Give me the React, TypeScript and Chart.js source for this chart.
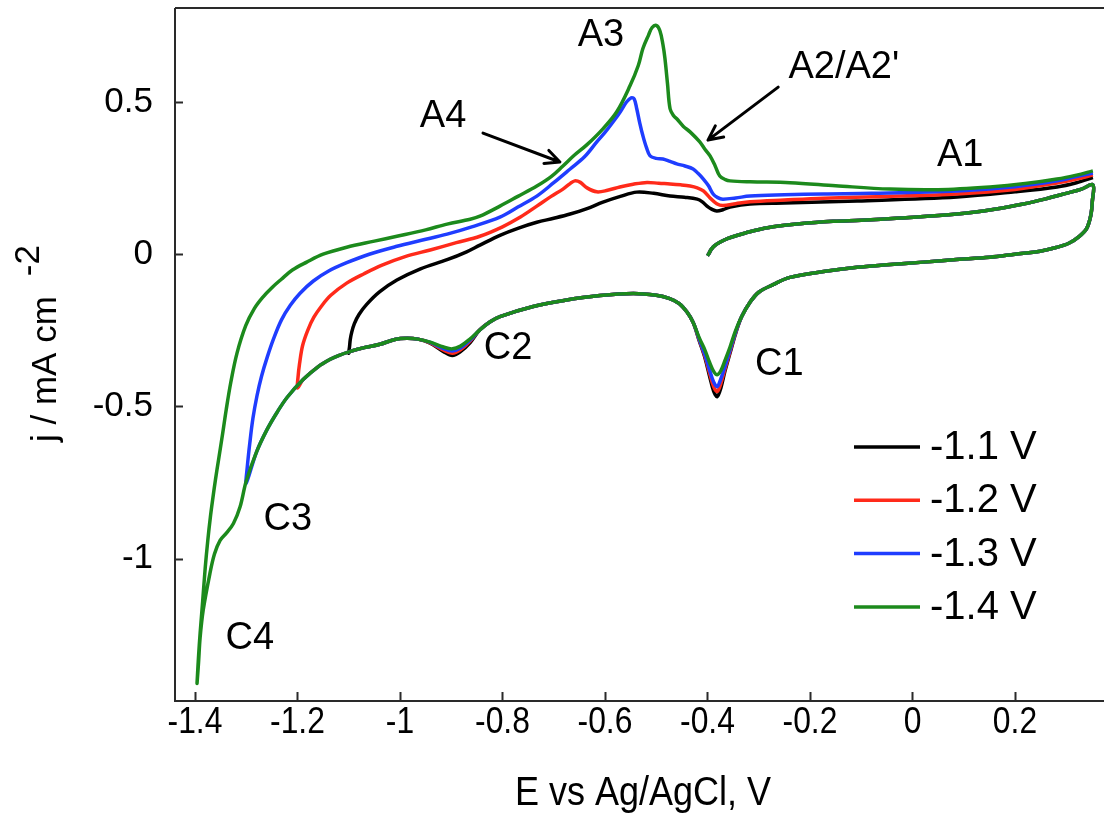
import React, { useEffect, useRef } from "react";
import { Chart, registerables } from "chart.js";

Chart.register(...registerables);

// ---------- axes ----------
const X_TICKS = [-1.4, -1.2, -1, -0.8, -0.6, -0.4, -0.2, 0, 0.2];
const Y_TICKS = [0.5, 0, -0.5, -1];
const X_TICK_LABELS = ["-1.4", "-1.2", "-1", "-0.8", "-0.6", "-0.4", "-0.2", "0", "0.2"];
const Y_TICK_LABELS = ["0.5", "0", "-0.5", "-1"];
const X_TITLE = "E vs Ag/AgCl, V";
const Y_TITLE = "j / mA cm";
const Y_TITLE_SUP = "-2";

// ---------- series ----------
const SERIES_LABELS = ["-1.1 V", "-1.2 V", "-1.3 V", "-1.4 V"];

// first anodic sweep from -0.4 V (common to all)
const E_MID = [-0.4, -0.397, -0.393, -0.386, -0.375, -0.36, -0.34, -0.31, -0.272, -0.22, -0.155, -0.1, -0.024, 0.087, 0.16, 0.216, 0.26, 0.3, 0.33, 0.352];
const J_MID = [-0.005, 0.003, 0.015, 0.028, 0.04, 0.052, 0.063, 0.077, 0.09, 0.1, 0.108, 0.112, 0.119, 0.132, 0.148, 0.165, 0.182, 0.2, 0.214, 0.228];

// cathodic sweep 0.35 V -> -1.1 V
const E_LOW = [0.351, 0.348, 0.34, 0.325, 0.305, 0.28, 0.249, 0.2, 0.151, 0.08, 0.021, -0.05, -0.108, -0.17, -0.239, -0.272, -0.3, -0.317, -0.333, -0.345, -0.356, -0.366, -0.374, -0.381, -0.388, -0.396, -0.405, -0.416, -0.428, -0.44, -0.455, -0.475, -0.5, -0.545, -0.61, -0.68, -0.74, -0.805, -0.824, -0.845, -0.863, -0.882, -0.898, -0.915, -0.941, -0.965, -0.987, -1.01, -1.039, -1.07, -1.098];
const J_LOW_11 = [0.175, 0.128, 0.085, 0.058, 0.036, 0.022, 0.01, 0.0, -0.01, -0.018, -0.026, -0.035, -0.043, -0.056, -0.076, -0.1, -0.125, -0.158, -0.204, -0.26, -0.325, -0.385, -0.44, -0.468, -0.45, -0.4, -0.34, -0.285, -0.224, -0.19, -0.162, -0.145, -0.135, -0.129, -0.136, -0.152, -0.172, -0.205, -0.222, -0.25, -0.29, -0.32, -0.333, -0.32, -0.292, -0.279, -0.276, -0.28, -0.296, -0.307, -0.32];
const J_LOW_12 = [0.175, 0.128, 0.085, 0.058, 0.036, 0.022, 0.01, 0.0, -0.01, -0.018, -0.026, -0.035, -0.043, -0.056, -0.076, -0.1, -0.125, -0.158, -0.204, -0.257, -0.32, -0.378, -0.425, -0.451, -0.435, -0.39, -0.335, -0.282, -0.224, -0.19, -0.162, -0.145, -0.135, -0.129, -0.136, -0.152, -0.172, -0.205, -0.222, -0.25, -0.285, -0.314, -0.325, -0.315, -0.291, -0.279, -0.276, -0.28, -0.296, -0.307, -0.32];
const J_LOW_13 = [0.175, 0.128, 0.085, 0.058, 0.036, 0.022, 0.01, 0.0, -0.01, -0.018, -0.026, -0.035, -0.043, -0.056, -0.076, -0.1, -0.125, -0.158, -0.204, -0.255, -0.315, -0.37, -0.41, -0.435, -0.42, -0.38, -0.33, -0.28, -0.224, -0.19, -0.162, -0.145, -0.135, -0.129, -0.136, -0.152, -0.172, -0.205, -0.222, -0.25, -0.282, -0.308, -0.318, -0.31, -0.29, -0.279, -0.276, -0.28, -0.296, -0.307, -0.32];
const J_LOW_14 = [0.175, 0.128, 0.085, 0.058, 0.036, 0.022, 0.01, 0.0, -0.01, -0.018, -0.026, -0.035, -0.043, -0.056, -0.076, -0.1, -0.125, -0.158, -0.204, -0.25, -0.305, -0.35, -0.383, -0.396, -0.385, -0.355, -0.315, -0.275, -0.224, -0.19, -0.162, -0.145, -0.135, -0.129, -0.136, -0.152, -0.172, -0.205, -0.222, -0.25, -0.278, -0.302, -0.311, -0.305, -0.289, -0.279, -0.276, -0.28, -0.296, -0.307, -0.32];

// cathodic sweep continued to each switching potential
const E_TAIL_11 = [-1.1];
const J_TAIL_11 = [-0.325];
const E_TAIL_12 = [-1.12, -1.137, -1.16, -1.189, -1.2];
const J_TAIL_12 = [-0.333, -0.346, -0.37, -0.412, -0.44];
const E_TAIL_13 = [-1.12, -1.137, -1.16, -1.189, -1.22, -1.24, -1.26, -1.28, -1.3];
const J_TAIL_13 = [-0.333, -0.346, -0.37, -0.412, -0.47, -0.52, -0.578, -0.65, -0.752];
const E_TAIL_14 = [-1.12, -1.137, -1.16, -1.189, -1.22, -1.24, -1.26, -1.28, -1.3, -1.312, -1.325, -1.338, -1.351, -1.362, -1.371, -1.384, -1.39, -1.393, -1.396];
const J_TAIL_14 = [-0.333, -0.346, -0.37, -0.412, -0.47, -0.52, -0.578, -0.65, -0.745, -0.83, -0.885, -0.915, -0.94, -0.985, -1.05, -1.17, -1.26, -1.34, -1.41];

// anodic return sweep to 0.35 V
const E_UP_11 = [-1.0985, -1.097, -1.094, -1.089, -1.08, -1.065, -1.04, -1.006, -0.96, -0.908, -0.87, -0.844, -0.805, -0.77, -0.733, -0.7, -0.668, -0.635, -0.604, -0.57, -0.538, -0.505, -0.473, -0.445, -0.42, -0.41, -0.401, -0.392, -0.382, -0.37, -0.356, -0.317, -0.25, -0.108, 0.087, 0.2, 0.282, 0.32, 0.352];
const J_UP_11 = [-0.305, -0.28, -0.255, -0.228, -0.198, -0.165, -0.124, -0.085, -0.048, -0.018, 0.008, 0.03, 0.062, 0.085, 0.105, 0.118, 0.132, 0.15, 0.171, 0.19, 0.204, 0.2, 0.191, 0.187, 0.181, 0.172, 0.158, 0.148, 0.142, 0.146, 0.155, 0.165, 0.168, 0.175, 0.188, 0.205, 0.221, 0.235, 0.252];
const E_UP_12 = [-1.199, -1.196, -1.19, -1.18, -1.168, -1.153, -1.135, -1.104, -1.07, -1.035, -0.99, -0.941, -0.89, -0.844, -0.8, -0.765, -0.733, -0.705, -0.682, -0.668, -0.659, -0.648, -0.635, -0.616, -0.595, -0.571, -0.545, -0.518, -0.495, -0.473, -0.452, -0.434, -0.42, -0.408, -0.395, -0.382, -0.37, -0.345, -0.317, -0.25, -0.174, -0.05, 0.087, 0.2, 0.282, 0.32, 0.352];
const J_UP_12 = [-0.405, -0.36, -0.3, -0.25, -0.207, -0.17, -0.135, -0.095, -0.064, -0.036, -0.008, 0.014, 0.038, 0.059, 0.09, 0.122, 0.158, 0.19, 0.214, 0.232, 0.241, 0.236, 0.218, 0.205, 0.21, 0.221, 0.23, 0.236, 0.233, 0.231, 0.228, 0.224, 0.218, 0.208, 0.185, 0.166, 0.16, 0.166, 0.172, 0.178, 0.184, 0.19, 0.198, 0.213, 0.234, 0.247, 0.26];
const E_UP_13 = [-1.298, -1.293, -1.287, -1.279, -1.27, -1.259, -1.246, -1.231, -1.214, -1.195, -1.169, -1.14, -1.104, -1.06, -1.006, -0.96, -0.908, -0.86, -0.805, -0.77, -0.733, -0.7, -0.668, -0.64, -0.616, -0.6, -0.584, -0.57, -0.558, -0.549, -0.543, -0.538, -0.532, -0.526, -0.519, -0.512, -0.5, -0.487, -0.473, -0.46, -0.444, -0.428, -0.418, -0.408, -0.398, -0.389, -0.38, -0.37, -0.345, -0.317, -0.25, -0.174, -0.08, 0.087, 0.2, 0.282, 0.32, 0.352];
const J_UP_13 = [-0.7, -0.62, -0.54, -0.465, -0.4, -0.338, -0.275, -0.215, -0.168, -0.128, -0.088, -0.056, -0.028, 0.0, 0.026, 0.045, 0.066, 0.09, 0.122, 0.155, 0.191, 0.235, 0.28, 0.32, 0.369, 0.4, 0.435, 0.468, 0.5, 0.514, 0.51, 0.478, 0.43, 0.389, 0.35, 0.323, 0.315, 0.313, 0.305, 0.297, 0.29, 0.28, 0.265, 0.247, 0.225, 0.198, 0.186, 0.181, 0.185, 0.191, 0.195, 0.198, 0.2, 0.208, 0.222, 0.241, 0.255, 0.267];
const E_UP_14 = [-1.393, -1.39, -1.385, -1.38, -1.375, -1.37, -1.365, -1.36, -1.354, -1.347, -1.339, -1.33, -1.318, -1.301, -1.284, -1.267, -1.25, -1.232, -1.21, -1.182, -1.15, -1.104, -1.05, -1.006, -0.95, -0.908, -0.863, -0.844, -0.805, -0.77, -0.733, -0.705, -0.682, -0.66, -0.635, -0.604, -0.577, -0.551, -0.535, -0.526, -0.515, -0.508, -0.5, -0.493, -0.487, -0.483, -0.478, -0.473, -0.466, -0.46, -0.447, -0.434, -0.415, -0.405, -0.395, -0.385, -0.376, -0.365, -0.356, -0.317, -0.239, -0.15, -0.044, 0.05, 0.151, 0.22, 0.282, 0.32, 0.352];
const J_UP_14 = [-1.32, -1.246, -1.14, -1.03, -0.94, -0.864, -0.8, -0.74, -0.675, -0.6, -0.51, -0.42, -0.325, -0.235, -0.178, -0.14, -0.11, -0.083, -0.052, -0.026, 0.0, 0.023, 0.043, 0.059, 0.08, 0.099, 0.115, 0.125, 0.158, 0.19, 0.224, 0.255, 0.29, 0.325, 0.36, 0.412, 0.468, 0.554, 0.62, 0.676, 0.72, 0.745, 0.752, 0.735, 0.69, 0.643, 0.56, 0.478, 0.455, 0.445, 0.42, 0.402, 0.369, 0.345, 0.323, 0.29, 0.257, 0.245, 0.241, 0.238, 0.235, 0.225, 0.214, 0.212, 0.221, 0.232, 0.247, 0.26, 0.274];

// ---------- annotations (data coordinates) ----------
const NOTE_TEXT = ["A1", "A2/A2'", "A3", "A4", "C1", "C2", "C3", "C4"];
const NOTE_E = [0.093, -0.134, -0.608, -0.916, -0.26, -0.789, -1.219, -1.293];
const NOTE_J = [0.323, 0.612, 0.717, 0.454, -0.361, -0.31, -0.872, -1.262];
const ARROW_FROM_E = [-0.838, -0.262];
const ARROW_FROM_J = [0.398, 0.549];
const ARROW_TO_E = [-0.688, -0.399];
const ARROW_TO_J = [0.303, 0.375];

const COLORS = ["#000000", "#ff2a1a", "#1f3dff", "#1c8a1c"];
const FONT = "'Liberation Sans', Arial, Helvetica, sans-serif";

function toPoints(parts: [number[], number[]][]) {
  const pts: { x: number; y: number }[] = [];
  for (const [es, js] of parts) {
    for (let i = 0; i < es.length; i++) pts.push({ x: es[i], y: js[i] });
  }
  return pts;
}

const CURVES = [
  toPoints([[E_MID, J_MID], [E_LOW, J_LOW_11], [E_TAIL_11, J_TAIL_11], [E_UP_11, J_UP_11]]),
  toPoints([[E_MID, J_MID], [E_LOW, J_LOW_12], [E_TAIL_12, J_TAIL_12], [E_UP_12, J_UP_12]]),
  toPoints([[E_MID, J_MID], [E_LOW, J_LOW_13], [E_TAIL_13, J_TAIL_13], [E_UP_13, J_UP_13]]),
  toPoints([[E_MID, J_MID], [E_LOW, J_LOW_14], [E_TAIL_14, J_TAIL_14], [E_UP_14, J_UP_14]]),
];

function condensedText(ctx: CanvasRenderingContext2D, text: string, x: number, y: number, sx: number) {
  ctx.save();
  ctx.translate(x, y);
  ctx.scale(sx, 1);
  ctx.fillText(text, 0, 0);
  ctx.restore();
}

const decorPlugin = {
  id: "decor",
  afterDatasetsDraw(chart: any) {
    const { ctx, chartArea, scales } = chart;
    const { left, right, top, bottom } = chartArea;
    const xs = scales.x;
    const ys = scales.y;
    ctx.save();

    // frame: top, left, bottom
    ctx.strokeStyle = "#2a2a2a";
    ctx.lineWidth = 2;
    ctx.beginPath();
    ctx.moveTo(left, top);
    ctx.lineTo(right, top);
    ctx.moveTo(left, top);
    ctx.lineTo(left, bottom);
    ctx.lineTo(right, bottom);
    ctx.stroke();

    // inward ticks
    ctx.beginPath();
    X_TICKS.forEach((v) => {
      const px = Math.round(xs.getPixelForValue(v)) + 0.5;
      ctx.moveTo(px, bottom);
      ctx.lineTo(px, bottom - 9);
    });
    Y_TICKS.forEach((v) => {
      const py = Math.round(ys.getPixelForValue(v)) + 0.5;
      ctx.moveTo(left, py);
      ctx.lineTo(left + 8, py);
    });
    ctx.stroke();

    // tick labels
    ctx.fillStyle = "#000";
    ctx.font = `37px ${FONT}`;
    ctx.textAlign = "center";
    ctx.textBaseline = "middle";
    X_TICKS.forEach((v, i) => {
      condensedText(ctx, X_TICK_LABELS[i], xs.getPixelForValue(v), bottom + 22, 0.86);
    });
    ctx.font = `35px ${FONT}`;
    ctx.textAlign = "right";
    Y_TICKS.forEach((v, i) => {
      ctx.fillText(Y_TICK_LABELS[i], left - 22, ys.getPixelForValue(v));
    });

    // axis titles
    ctx.font = `40px ${FONT}`;
    ctx.textAlign = "center";
    condensedText(ctx, X_TITLE, 643, 794, 0.9);

    ctx.save();
    ctx.translate(46, 365);
    ctx.rotate(-Math.PI / 2);
    ctx.font = `35px ${FONT}`;
    ctx.textAlign = "left";
    ctx.textBaseline = "middle";
    ctx.fillText(Y_TITLE, -77, 0);
    const w = ctx.measureText(Y_TITLE).width;
    ctx.fillText(Y_TITLE_SUP, -77 + w + 20, -17);
    ctx.restore();

    // annotations
    ctx.font = `38px ${FONT}`;
    ctx.textAlign = "center";
    ctx.textBaseline = "middle";
    NOTE_TEXT.forEach((t, i) => {
      ctx.fillText(t, xs.getPixelForValue(NOTE_E[i]), ys.getPixelForValue(NOTE_J[i]));
    });

    // arrows
    ctx.strokeStyle = "#000";
    ctx.lineWidth = 3;
    ctx.lineCap = "round";
    ctx.lineJoin = "round";
    ARROW_FROM_E.forEach((_, i) => {
      const x0 = xs.getPixelForValue(ARROW_FROM_E[i]);
      const y0 = ys.getPixelForValue(ARROW_FROM_J[i]);
      const x1 = xs.getPixelForValue(ARROW_TO_E[i]);
      const y1 = ys.getPixelForValue(ARROW_TO_J[i]);
      const a = Math.atan2(y1 - y0, x1 - x0);
      const hl = 16;
      const ha = 0.45;
      ctx.beginPath();
      ctx.moveTo(x0, y0);
      ctx.lineTo(x1, y1);
      ctx.moveTo(x1 - hl * Math.cos(a - ha), y1 - hl * Math.sin(a - ha));
      ctx.lineTo(x1, y1);
      ctx.lineTo(x1 - hl * Math.cos(a + ha), y1 - hl * Math.sin(a + ha));
      ctx.stroke();
    });

    // legend
    const lx0 = right - 250;
    const lx1 = right - 184;
    const ly0 = top + 439;
    const dy = 53.3;
    ctx.lineWidth = 3.5;
    ctx.lineCap = "butt";
    ctx.font = `40px ${FONT}`;
    ctx.textAlign = "left";
    ctx.textBaseline = "middle";
    SERIES_LABELS.forEach((lab, i) => {
      const yy = ly0 + dy * i;
      ctx.strokeStyle = COLORS[i];
      ctx.beginPath();
      ctx.moveTo(lx0, yy);
      ctx.lineTo(lx1, yy);
      ctx.stroke();
      ctx.fillStyle = "#000";
      ctx.fillText(lab, lx1 + 10, yy + 1);
    });

    ctx.restore();
  },
};

export default function App() {
  const ref = useRef<HTMLCanvasElement | null>(null);
  useEffect(() => {
    if (!ref.current) return;
    const chart = new Chart(ref.current, {
      type: "scatter",
      data: {
        datasets: SERIES_LABELS.map((lab, i) => ({
          label: lab,
          data: CURVES[i],
          showLine: true,
          borderColor: COLORS[i],
          backgroundColor: COLORS[i],
          borderWidth: 3.5,
          pointRadius: 0,
          tension: 0.35,
          fill: false,
          order: 3 - i,
        })),
      },
      options: {
        responsive: false,
        animation: false,
        devicePixelRatio: 1,
        layout: { padding: { left: 175, top: 8, right: 0, bottom: 116 } },
        scales: {
          x: { type: "linear", min: -1.439, max: 0.3737, display: false },
          y: { type: "linear", min: -1.468, max: 0.809, display: false },
        },
        plugins: { legend: { display: false }, tooltip: { enabled: false } },
      },
      plugins: [decorPlugin],
    } as any);
    return () => chart.destroy();
  }, []);
  return (
    <div style={{ position: "absolute", left: 0, top: 0, width: 1104, height: 817, background: "#fff" }}>
      <canvas ref={ref} width={1104} height={817} style={{ display: "block" }} />
    </div>
  );
}
